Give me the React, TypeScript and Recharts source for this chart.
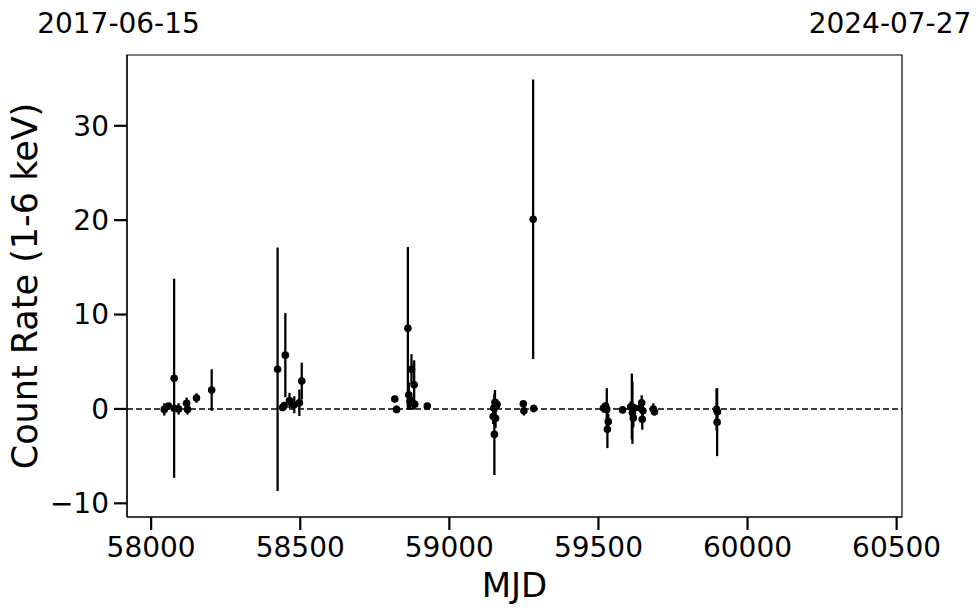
import { ErrorBar, ReferenceArea, ReferenceLine, Scatter, ScatterChart, XAxis, YAxis } from "recharts";

const mjd = [
  58044, 58058, 58077, 58078, 58092, 58119, 58122, 58152, 58203,
  58424, 58441, 58446, 58450, 58464, 58473, 58480, 58497, 58505,
  58817, 58823, 58861, 58864, 58868, 58873, 58877, 58882, 58884, 58926,
  59147, 59149, 59151, 59153, 59155, 59157, 59160, 59248, 59250, 59281, 59283,
  59517, 59524, 59528, 59530, 59533, 59581, 59608, 59612, 59614, 59617, 59620,
  59640, 59645, 59647, 59649, 59684, 59688, 59896, 59898, 59899,
];
const rate = [
  -0.05, 0.3, 3.25, 0.05, 0.0, 0.6, -0.05, 1.15, 2.0,
  4.2, 0.15, 0.35, 5.7, 0.9, 0.55, 0.45, 0.65, 2.95,
  1.05, -0.05, 8.55, 1.5, 0.8, 4.2, 0.6, 2.55, 0.5, 0.3,
  -0.8, 0.1, -2.7, 0.7, -1.0, 0.3, 0.5, 0.55, -0.2, 20.1, 0.05,
  0.1, 0.3, -0.05, -2.15, -1.35, -0.1, 0.2, 0.25, -0.4, -0.95, 0.1,
  0.1, 0.65, -1.1, -0.2, 0.0, -0.3, -0.05, -1.4, -0.3,
];
const rateErr = [
  0.65, 0.3, 10.55, 0.4, 0.6, 0.6, 0.55, 0.5, 2.2,
  12.9, 0.3, 0.4, 4.45, 0.8, 0.5, 0.9, 1.4, 1.95,
  0.35, 0.4, 8.6, 1.3, 0.9, 1.6, 0.7, 2.6, 0.4, 0.3,
  0.8, 0.6, 4.3, 1.3, 1.0, 0.6, 0.5, 0.3, 0.5, 14.8, 0.4,
  0.5, 0.4, 2.25, 2.0, 0.8, 0.2, 0.6, 3.5, 3.3, 1.0, 0.4,
  0.4, 0.8, 1.1, 0.5, 0.6, 0.4, 2.2, 3.6, 0.6,
];

const xTicks = [58000, 58500, 59000, 59500, 60000, 60500];
const yTicks = [-10, 0, 10, 20, 30];
const topTickMjd = [57919, 60518];
const topTickLabels = ["2017-06-15", "2024-07-27"];

const data = mjd.map((m, i) => ({ mjd: m, rate: rate[i], err: rateErr[i] }));

const X_DOMAIN: [number, number] = [57919, 60518];
const Y_DOMAIN: [number, number] = [-11.45, 37.5];

const fmtY = (v: number) => (v < 0 ? "\u2212" + Math.abs(v) : String(v));

const TopTick = (props: any) => {
  const { x, index } = props;
  const shift = index === 0 ? -8.5 : -12;
  return (
    <text x={x + shift} y={33} textAnchor="middle" fontSize={28} fill="#000">
      {topTickLabels[index]}
    </text>
  );
};

export default function App() {
  return (
    <div
      style={{
        position: "absolute",
        left: 0,
        top: 0,
        width: 980,
        height: 613,
        background: "#fff",
        fontFamily: "'DejaVu Sans', sans-serif",
      }}
    >
      <ScatterChart width={980} height={613} margin={{ top: 0, right: 78, bottom: 0, left: 0 }}>
        <XAxis
          xAxisId="top"
          orientation="top"
          type="number"
          dataKey="mjd"
          domain={X_DOMAIN}
          allowDataOverflow
          ticks={topTickMjd}
          height={55}
          axisLine={false}
          tickLine={false}
          tick={<TopTick />}
        />
        <XAxis
          type="number"
          dataKey="mjd"
          domain={X_DOMAIN}
          allowDataOverflow
          ticks={xTicks}
          height={96}
          tickSize={13}
          tickMargin={7}
          axisLine={{ stroke: "#000", strokeWidth: 1.2 }}
          tickLine={{ stroke: "#000", strokeWidth: 2.2 }}
          tick={{ fill: "#000", fontSize: 28 }}
          label={{
            content: () => (
              <text x={514.5} y={597} textAnchor="middle" fontSize={34} fill="#000">
                MJD
              </text>
            ),
          }}
        />
        <YAxis
          type="number"
          dataKey="rate"
          domain={Y_DOMAIN}
          allowDataOverflow
          ticks={yTicks}
          width={127}
          tickSize={13}
          tickMargin={5}
          tickFormatter={fmtY}
          axisLine={{ stroke: "#000", strokeWidth: 1.2 }}
          tickLine={{ stroke: "#000", strokeWidth: 2.2 }}
          tick={{ fill: "#000", fontSize: 28 }}
          label={{
            content: () => (
              <text transform="translate(37,286) rotate(-90)" textAnchor="middle" fontSize={35} fill="#000">
                Count Rate (1-6 keV)
              </text>
            ),
          }}
        />
        <ReferenceArea
          x1={X_DOMAIN[0]}
          x2={X_DOMAIN[1]}
          y1={Y_DOMAIN[0]}
          y2={Y_DOMAIN[1]}
          fill="none"
          stroke="#000"
          strokeWidth={1.2}
        />
        <ReferenceLine y={0} stroke="#000" strokeWidth={1.5} strokeDasharray="6 3" />
        <Scatter
          data={data}
          dataKey="rate"
          fill="#000"
          isAnimationActive={false}
          shape={(p: any) => <circle cx={p.cx} cy={p.cy} r={3.8} fill="#000" />}
        >
          <ErrorBar dataKey="err" direction="y" width={0} stroke="#000" strokeWidth={2.3} />
        </Scatter>
      </ScatterChart>
    </div>
  );
}
